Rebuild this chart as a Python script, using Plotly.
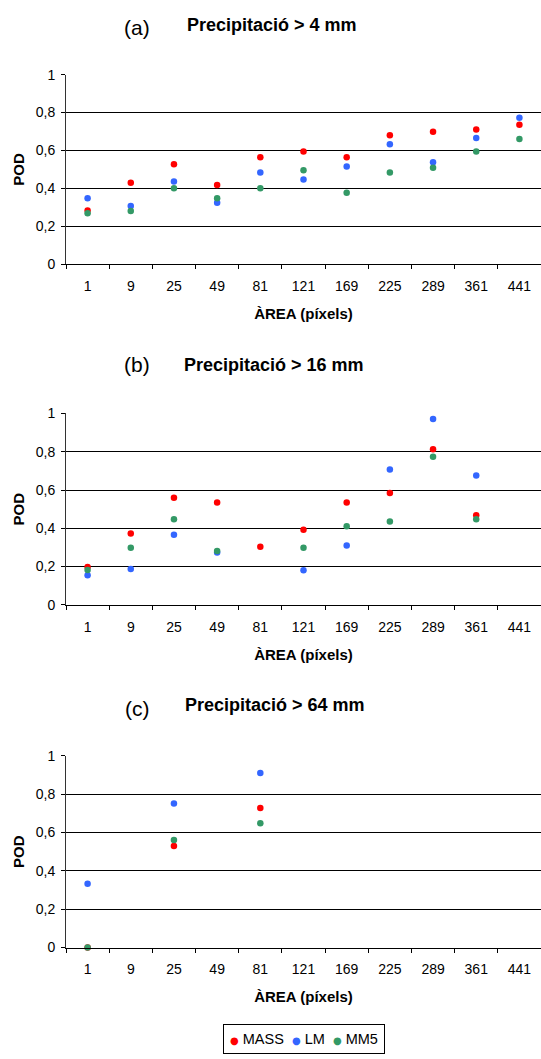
import plotly.graph_objects as go
from plotly.subplots import make_subplots

# Window areas (pixels) used as categories on every panel
areas = ["1", "9", "25", "49", "81", "121", "169", "225", "289", "361", "441"]

# POD scores, precipitation > 4 mm
a_mass = [0.283, 0.429, 0.527, 0.417, 0.564, 0.595, 0.564, 0.680, 0.699, 0.711, 0.736]
a_lm = [0.348, 0.307, 0.436, 0.324, 0.484, 0.446, 0.515, 0.633, 0.537, 0.666, 0.773]
a_mm5 = [0.268, 0.280, 0.400, 0.348, 0.400, 0.496, 0.377, 0.484, 0.508, 0.595, 0.660]

# POD scores, precipitation > 16 mm
b_mass = [0.198, 0.373, 0.559, 0.535, 0.304, 0.392, 0.535, 0.585, 0.813, 0.468, None]
b_lm = [0.155, 0.187, 0.366, 0.273, None, 0.181, 0.310, 0.707, 0.971, 0.676, None]
b_mm5 = [0.182, 0.299, 0.447, 0.282, None, 0.299, 0.411, 0.435, 0.774, 0.447, None]

# POD scores, precipitation > 64 mm
c_mass = [0.0, None, 0.530, None, 0.728, None, None, None, None, None, None]
c_lm = [0.333, None, 0.751, None, 0.911, None, None, None, None, None, None]
c_mm5 = [0.0, None, 0.561, None, 0.648, None, None, None, None, None, None]

pod_ticks = [0, 0.2, 0.4, 0.6, 0.8, 1]
pod_tick_text = ["0", "0,2", "0,4", "0,6", "0,8", "1"]

panel_letters = ["(a)", "(b)", "(c)"]
panel_titles = ["Precipitació > 4 mm", "Precipitació > 16 mm", "Precipitació > 64 mm"]

model_names = ["MASS", "LM", "MM5"]
model_colors = ["#FF0000", "#3366FF", "#339966"]

panels = [
    [a_mass, a_lm, a_mm5],
    [b_mass, b_lm, b_mm5],
    [c_mass, c_lm, c_mm5],
]

W, H = 541, 1059
X_LEFT = 66.0
FONT = "Liberation Sans, Arial, sans-serif"


def px_x(px):
    """Horizontal pixel -> paper fraction (paper spans the plot area)."""
    return (px - X_LEFT) / (W - X_LEFT)


def px_y(py):
    return 1 - py / H


fig = make_subplots(rows=3, cols=1)

for row, series in enumerate(panels, start=1):
    for name, color, vals in zip(model_names, model_colors, series):
        fig.add_trace(
            go.Scatter(
                x=areas,
                y=vals,
                mode="markers",
                name=name,
                marker=dict(color=color, size=6.5, line=dict(width=0)),
                cliponaxis=False,
                showlegend=False,
            ),
            row=row,
            col=1,
        )

# plot-area placement in pixels: (top, bottom)
plot_rows = [(67.7, 260.0), (411.7, 606.0), (759.3, 954.0)]

for i, (top, bottom) in enumerate(plot_rows, start=1):
    fig.update_xaxes(
        type="category",
        categoryorder="array",
        categoryarray=areas,
        range=[-0.5, 10.5],
        domain=[0, 1],
        showgrid=False,
        showline=True,
        linecolor="#000000",
        linewidth=1,
        ticks="outside",
        tickson="boundaries",
        ticklen=4,
        tickcolor="#000000",
        tickfont=dict(family=FONT, size=14, color="#000000"),
        ticklabelstandoff=9,
        title=dict(
            text="<b>ÀREA (píxels)</b>",
            font=dict(family=FONT, size=15, color="#000000"),
            standoff=15,
        ),
        zeroline=False,
        row=i,
        col=1,
    )
    fig.update_yaxes(
        range=[0, 1],
        domain=[px_y(bottom), px_y(top)],
        tickvals=pod_ticks,
        ticktext=pod_tick_text,
        showgrid=True,
        gridcolor="#000000",
        gridwidth=1,
        showline=True,
        linecolor="#333333",
        linewidth=1,
        ticks="outside",
        ticklen=4,
        tickcolor="#000000",
        tickfont=dict(family=FONT, size=14, color="#000000"),
        ticklabelstandoff=3,
        title=dict(
            text="<b>POD</b>",
            font=dict(family=FONT, size=15, color="#000000"),
            standoff=7,
        ),
        zeroline=False,
        row=i,
        col=1,
    )

# panel headings: letter and threshold title
letter_pos = [(137, 20), (137, 362), (137, 711)]
title_pos = [(185, 17), (182, 362), (183, 708)]
annotations = []
for letter, title, (lx, ly), (tx, ty) in zip(panel_letters, panel_titles, letter_pos, title_pos):
    annotations.append(dict(
        text=letter, x=px_x(lx), y=px_y(ly), xref="paper", yref="paper",
        xanchor="center", yanchor="middle", showarrow=False,
        font=dict(family=FONT, size=21, color="#000000"),
    ))
    annotations.append(dict(
        text="<b>" + title + "</b>", x=px_x(tx), y=px_y(ty), xref="paper", yref="paper",
        xanchor="left", yanchor="middle", showarrow=False,
        font=dict(family=FONT, size=18, color="#000000"),
    ))

# series key: coloured dot followed by the model name
key_parts = []
for name, color in zip(model_names, model_colors):
    key_parts.append(
        '<span style="color:%s;font-family:DejaVu Sans;font-size:10px">●</span> %s' % (color, name)
    )
annotations.append(dict(
    text="  ".join(key_parts),
    x=px_x(304), y=px_y(1047), xref="paper", yref="paper",
    xanchor="center", yanchor="middle", showarrow=False,
    font=dict(family=FONT, size=14.5, color="#000000"),
    bordercolor="#000000", borderwidth=1, borderpad=6, bgcolor="#FFFFFF",
))

fig.update_layout(
    width=W,
    height=H,
    margin=dict(l=X_LEFT, r=0, t=0, b=0),
    paper_bgcolor="#FFFFFF",
    plot_bgcolor="#FFFFFF",
    font=dict(family=FONT, size=14, color="#000000"),
    annotations=annotations,
    showlegend=False,
)

fig.write_html("out.html")
